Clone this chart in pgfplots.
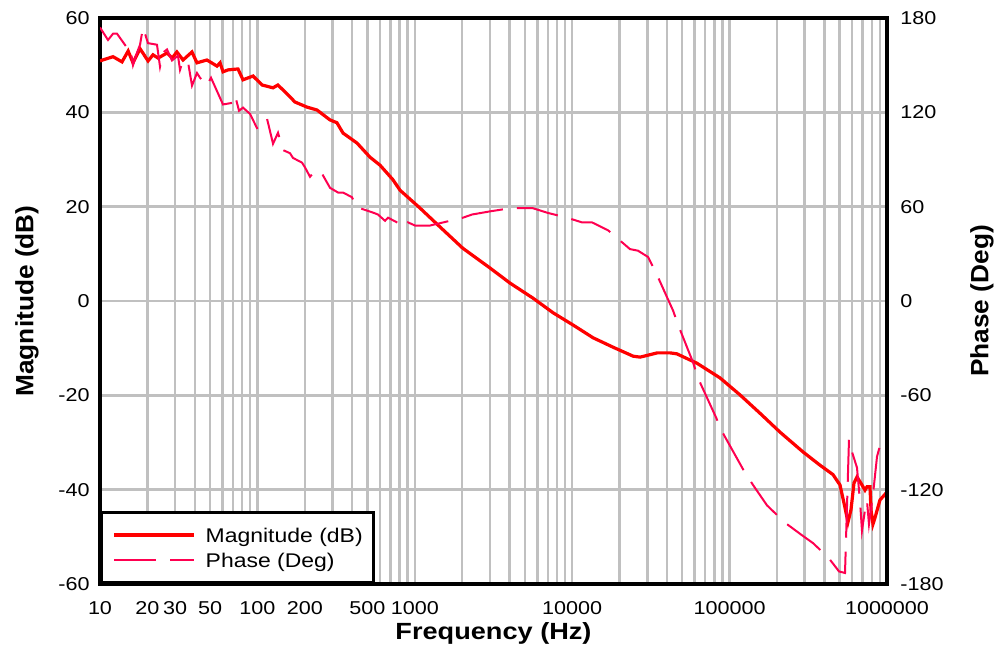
\documentclass[border=0pt]{standalone}
\usepackage{fontspec}
\setmainfont{Liberation Sans}[FakeStretch=1.16]
\newfontfamily\vfont{Liberation Sans}[FakeStretch=1.05]
\usepackage{pgfplots}
\pgfplotsset{compat=1.18}
\definecolor{phasecol}{RGB}{255,0,80}
\definecolor{gridgray}{RGB}{192,192,192}
\begin{document}
\begin{tikzpicture}
\useasboundingbox (-50pt,-34.5pt) rectangle (448.5pt,292pt);
\begin{axis}[
  scale only axis, width=393.5pt, height=283pt,
  xmode=log, xmin=10, xmax=1000000,
  major tick length=0pt, minor tick length=0pt,
  axis line style={line width=1.6pt},
  ymin=-60, ymax=60,
  xtick={10,20,30,40,50,60,70,80,90,100,200,300,400,500,600,700,800,900,1000,2000,3000,4000,5000,6000,7000,8000,9000,10000,20000,30000,40000,50000,60000,70000,80000,90000,100000,200000,300000,400000,500000,600000,700000,800000,900000,1000000},
  xticklabels={10,20,30,,50,,,,,100,200,,,500,,,,,1000,,,,,,,,,10000,,,,,,,,,100000,,,,,,,,,1000000},
  ytick={-60,-40,-20,0,20,40,60},
  yticklabels={-60,-40,-20,0,20,40,60},
  xmajorgrids, ymajorgrids,
  grid style={gridgray, line width=1.25pt},
  xticklabel style={font=\fontsize{9.3}{11}\selectfont, anchor=base, inner sep=0pt, yshift=-15.5pt},
  yticklabel style={font=\fontsize{9.3}{11}\selectfont, anchor=east, inner sep=0pt, xshift=-5pt},
  xlabel={Frequency (Hz)},
  xlabel style={font=\fontsize{11.7}{13}\selectfont\bfseries, at={(axis description cs:0.5,-0.09894)}, anchor=base, inner sep=0pt},
  ylabel={Magnitude (dB)},
  ylabel style={font=\vfont\fontsize{12.5}{14}\selectfont\bfseries, at={(axis description cs:-0.09276,0.5)}, anchor=center, inner sep=0pt},
]
\addplot[red, line width=1.6pt] table[x=f, y=mag] {
f mag
10 50.9
10.4 51.1
12.1 51.8
13.8 50.7
15.1 53.0
16.2 50.5
17.96 53.5
20.2 50.9
21.7 52.2
23.4 51.5
26.7 52.6
28.7 51.5
30.8 52.8
33.7 51.1
38.4 52.8
41.3 50.5
47.8 51.1
55.4 49.8
57.9 50.5
60.5 48.6
65.1 49.0
75.3 49.2
81.0 46.9
93.8 47.7
107 45.8
125.6 45.2
135 45.8
161 43.3
173 42.2
207 41.1
239 40.5
289 38.4
320 37.8
350 35.6
429 33.5
519 30.5
601 28.8
727 25.7
805 23.5
1079 19.7
1446 15.7
2016 11.2
3004 7.0
4025 3.8
5640 0.6
7564 -2.5
10135 -5.1
13580 -7.8
18200 -9.8
24390 -11.7
27000 -11.9
34700 -11.0
41900 -11.0
46200 -11.2
62100 -13.2
86900 -16.3
116400 -19.9
156000 -23.8
209000 -27.8
292700 -32.0
375000 -34.8
453700 -36.8
502700 -39.0
540000 -43.7
564800 -46.9
590300 -44.3
617000 -38.6
644900 -37.3
693500 -39.0
724800 -40.1
746000 -39.4
779700 -39.4
791500 -44.3
814600 -47.3
838400 -46.0
902000 -42.2
1000000 -40.5
};
\end{axis}
\begin{axis}[
  scale only axis, width=393.5pt, height=283pt,
  xmode=log, xmin=10, xmax=1000000,
  major tick length=0pt, minor tick length=0pt,
  axis line style={line width=1.6pt},
  ymin=-180, ymax=180,
  axis x line=none, axis y line*=right,
  ytick={-180,-120,-60,0,60,120,180},
  yticklabels={-180,-120,-60,0,60,120,180},
  yticklabel style={font=\fontsize{9.3}{11}\selectfont, anchor=west, inner sep=0pt, xshift=6.5pt},
  ylabel={Phase (Deg)},
  ylabel style={font=\vfont\fontsize{12.5}{14}\selectfont\bfseries, at={(axis description cs:1.12071,0.5)}, anchor=center, inner sep=0pt},
  legend style={at={(0,0)}, anchor=south west, draw=black, line width=1.5pt, fill=white,
    inner xsep=5.5pt, inner ysep=6pt, row sep=2pt, column sep=5pt,
    font=\fontsize{9.9}{12}\selectfont,
    nodes={inner sep=0pt, text height=9pt, text depth=1.5pt}},
  legend cell align=left,
  legend image code/.code={\draw[#1] (0pt,0pt) -- (40pt,0pt);},
]
\addlegendimage{red, line width=1.6pt}
\addlegendentry{Magnitude (dB)}
\addplot[phasecol, line width=1pt, dash pattern=on 21pt off 7pt] table[x=f, y=ph] {
f ph
10 174
11.24 166
12.10 170
12.83 170
14.63 162
15.51 162
16.21 150
17.19 158
17.96 163
18.76 174
20.18 164
23.02 163
24.06 149
25.14 158
26.65 160
28.67 153
31.30 156
32.23 147
33.68 153
36.24 152
38.42 137
41.33 145
43.19 142
47.84 137
50.73 142
60.45 125
68.98 126
72.07 131
76.40 121
81.00 123
89.75 119
99.4 110
107.0 111
115.1 116
125.7 100
135.2 107
145.4 96
161.1 94
168.3 91
192.1 88
200.6 85
215.9 79
232.3 83
257.3 81
289.2 72
325.2 69
349.9 69
399.0 66
429.4 59
448.6 59
550.6 56
583.8 55
646.9 51
675.9 53
770.8 50
866.6 47
905.5 50
1003 48
1249 48
1674 51
2024 53
2309 55
3004 57
4025 59
5636 59
7020 56
9268 53
11542 50
13363 50
16884 45
23292 33
26181 32
30310 28
34070 18
40620 1
43700 -6
47000 -15
58560 -39
62980 -49
81950 -74
89480 -83
121700 -107
140800 -117
172900 -130
224900 -141
288400 -149
338800 -154
392200 -160
422000 -163
453800 -167
495500 -172
541000 -173
573600 -88
599300 -96
644600 -106
673500 -127
693500 -146
724600 -133
746100 -127
768300 -142
814800 -123
864000 -99
902800 -92
1000000 -89
};
\addlegendentry{Phase (Deg)}
\end{axis}
\end{tikzpicture}
\end{document}
